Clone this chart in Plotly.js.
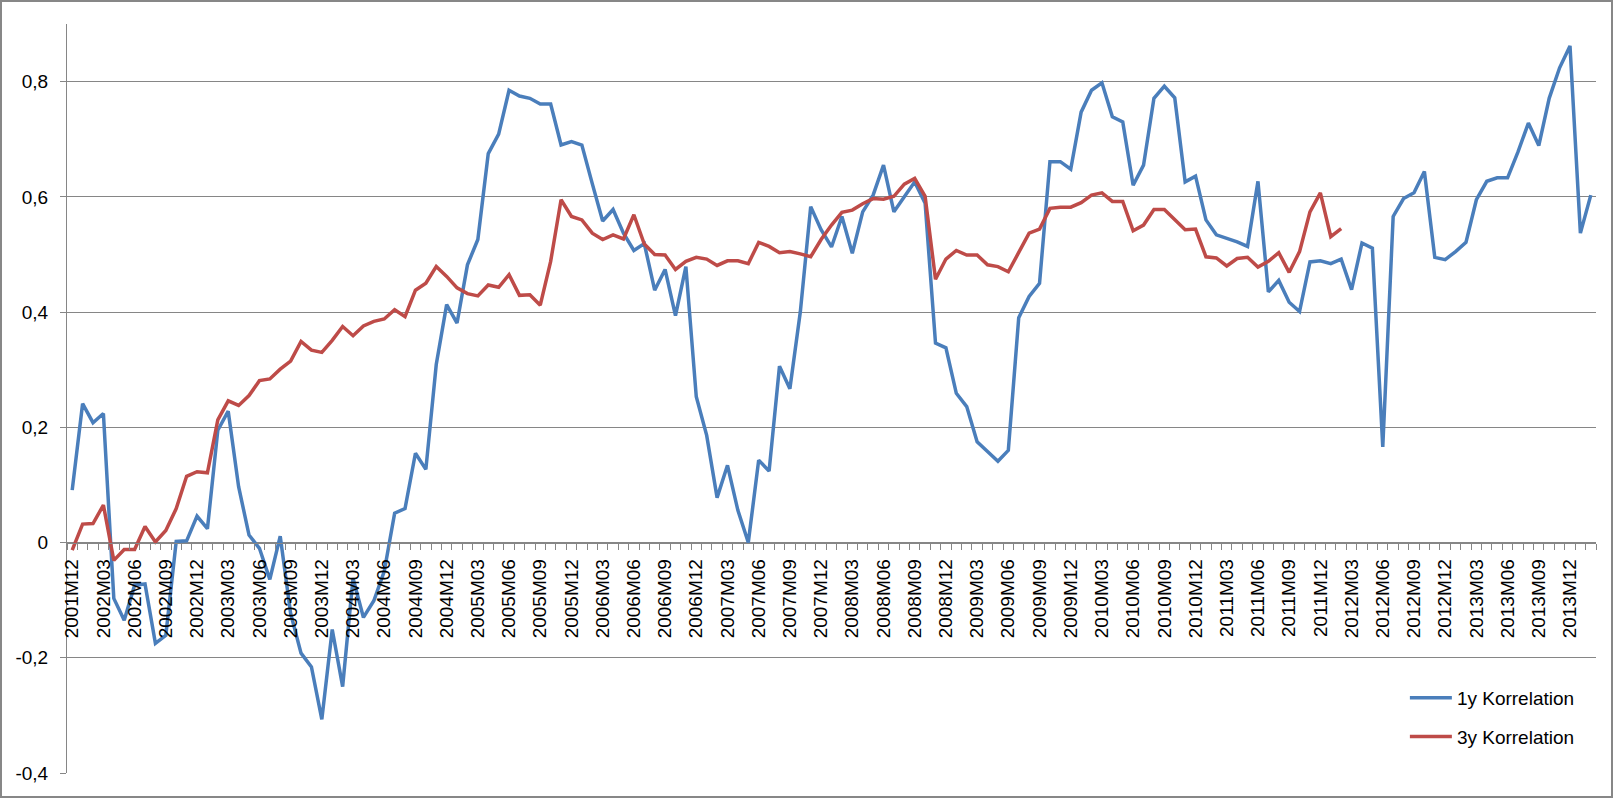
<!DOCTYPE html>
<html>
<head>
<meta charset="utf-8">
<script src="https://cdn.plot.ly/plotly-3.0.1.min.js"></script>
<style>
html, body { margin: 0; padding: 0; background: #ffffff; overflow: hidden; }
#chart { width: 1613px; height: 798px; box-sizing: border-box; border: 2px solid #878787; background: #ffffff; }
</style>
</head>
<body>
<div id="chart"></div>
<script>
// Categories (monthly)
const months = [
  "2001M12",
  "2002M01","2002M02","2002M03","2002M04","2002M05","2002M06","2002M07","2002M08","2002M09","2002M10","2002M11","2002M12",
  "2003M01","2003M02","2003M03","2003M04","2003M05","2003M06","2003M07","2003M08","2003M09","2003M10","2003M11","2003M12",
  "2004M01","2004M02","2004M03","2004M04","2004M05","2004M06","2004M07","2004M08","2004M09","2004M10","2004M11","2004M12",
  "2005M01","2005M02","2005M03","2005M04","2005M05","2005M06","2005M07","2005M08","2005M09","2005M10","2005M11","2005M12",
  "2006M01","2006M02","2006M03","2006M04","2006M05","2006M06","2006M07","2006M08","2006M09","2006M10","2006M11","2006M12",
  "2007M01","2007M02","2007M03","2007M04","2007M05","2007M06","2007M07","2007M08","2007M09","2007M10","2007M11","2007M12",
  "2008M01","2008M02","2008M03","2008M04","2008M05","2008M06","2008M07","2008M08","2008M09","2008M10","2008M11","2008M12",
  "2009M01","2009M02","2009M03","2009M04","2009M05","2009M06","2009M07","2009M08","2009M09","2009M10","2009M11","2009M12",
  "2010M01","2010M02","2010M03","2010M04","2010M05","2010M06","2010M07","2010M08","2010M09","2010M10","2010M11","2010M12",
  "2011M01","2011M02","2011M03","2011M04","2011M05","2011M06","2011M07","2011M08","2011M09","2011M10","2011M11","2011M12",
  "2012M01","2012M02","2012M03","2012M04","2012M05","2012M06","2012M07","2012M08","2012M09","2012M10","2012M11","2012M12",
  "2013M01","2013M02","2013M03","2013M04","2013M05","2013M06","2013M07","2013M08","2013M09","2013M10","2013M11","2013M12",
  "2014M01","2014M02"
];

// Tick labels shown on the x axis (every third month)
const tickLabels = [
  "2001M12","2002M03","2002M06","2002M09","2002M12","2003M03","2003M06","2003M09","2003M12",
  "2004M03","2004M06","2004M09","2004M12","2005M03","2005M06","2005M09","2005M12",
  "2006M03","2006M06","2006M09","2006M12","2007M03","2007M06","2007M09","2007M12",
  "2008M03","2008M06","2008M09","2008M12","2009M03","2009M06","2009M09","2009M12",
  "2010M03","2010M06","2010M09","2010M12","2011M03","2011M06","2011M09","2011M12",
  "2012M03","2012M06","2012M09","2012M12","2013M03","2013M06","2013M09","2013M12"
];

// 1y Korrelation
const corr1y = [
  0.091, 0.241, 0.208, 0.224, -0.097, -0.135, -0.074, -0.072, -0.175, -0.161,
  0.002, 0.003, 0.046, 0.024, 0.195, 0.228, 0.097, 0.013, -0.010, -0.064,
  0.011, -0.123, -0.192, -0.216, -0.307, -0.151, -0.250, -0.062, -0.130, -0.101,
  -0.050, 0.051, 0.059, 0.155, 0.127, 0.309, 0.413, 0.381, 0.482, 0.526,
  0.675, 0.709, 0.785, 0.775, 0.771, 0.761, 0.761, 0.690, 0.696, 0.690,
  0.623, 0.558, 0.578, 0.537, 0.507, 0.519, 0.438, 0.474, 0.394, 0.479,
  0.253, 0.186, 0.078, 0.134, 0.056, 0.000, 0.143, 0.124, 0.306, 0.267,
  0.400, 0.583, 0.543, 0.513, 0.566, 0.502, 0.574, 0.603, 0.655, 0.574,
  0.600, 0.626, 0.589, 0.346, 0.338, 0.259, 0.236, 0.175, 0.158, 0.141,
  0.160, 0.390, 0.427, 0.450, 0.661, 0.661, 0.648, 0.747, 0.785, 0.798,
  0.739, 0.730, 0.620, 0.655, 0.771, 0.792, 0.772, 0.626, 0.636, 0.560,
  0.534, 0.528, 0.522, 0.514, 0.627, 0.435, 0.455, 0.417, 0.401, 0.487,
  0.489, 0.484, 0.492, 0.439, 0.520, 0.511, 0.166, 0.566, 0.597, 0.607,
  0.644, 0.495, 0.491, 0.505, 0.521, 0.595, 0.627, 0.633, 0.633, 0.678,
  0.728, 0.689, 0.771, 0.824, 0.862, 0.537, 0.603
];

// 3y Korrelation
const corr3y = [
  -0.013, 0.032, 0.033, 0.065, -0.031, -0.012, -0.012, 0.028, 0.001, 0.021,
  0.059, 0.115, 0.123, 0.121, 0.213, 0.246, 0.238, 0.255, 0.281, 0.284,
  0.301, 0.315, 0.349, 0.334, 0.330, 0.351, 0.375, 0.359, 0.376, 0.384,
  0.388, 0.404, 0.392, 0.438, 0.450, 0.479, 0.462, 0.442, 0.432, 0.428,
  0.447, 0.443, 0.465, 0.429, 0.430, 0.412, 0.488, 0.595, 0.566, 0.560,
  0.537, 0.526, 0.534, 0.527, 0.569, 0.518, 0.500, 0.499, 0.474, 0.488,
  0.495, 0.492, 0.481, 0.489, 0.489, 0.484, 0.521, 0.514, 0.503, 0.505,
  0.501, 0.496, 0.526, 0.551, 0.573, 0.577, 0.588, 0.597, 0.596, 0.601,
  0.622, 0.632, 0.601, 0.457, 0.492, 0.507, 0.499, 0.499, 0.482, 0.479,
  0.470, 0.505, 0.537, 0.544, 0.580, 0.582, 0.582, 0.590, 0.603, 0.607,
  0.592, 0.592, 0.541, 0.551, 0.578, 0.578, 0.560, 0.543, 0.544, 0.496,
  0.494, 0.480, 0.493, 0.495, 0.478, 0.488, 0.503, 0.469, 0.505, 0.574,
  0.607, 0.531, 0.545
];

// Y axis ticks
const yTickVals = [-0.4, -0.2, 0, 0.2, 0.4, 0.6, 0.8];
const yTickText = ["-0,4", "-0,2", "0", "0,2", "0,4", "0,6", "0,8"];

const seriesNames = ["1y Korrelation", "3y Korrelation"];

const xIdx = months.map((m, i) => i);
const tickVals = tickLabels.map(l => months.indexOf(l));

const gridCol = "#868686";
const fontFam = "'Liberation Sans', Arial, sans-serif";
const yMin = -0.4, yMax = 0.9;

const traces = [
  {
    x: xIdx.slice(0, corr1y.length), y: corr1y, name: seriesNames[0],
    type: "scatter", mode: "lines",
    line: { color: "#4a7ebb", width: 3.5 },
    legendgroup: "a", hoverinfo: "skip"
  },
  {
    x: xIdx.slice(0, corr3y.length), y: corr3y, name: seriesNames[1],
    type: "scatter", mode: "lines",
    line: { color: "#be4b48", width: 3.5 },
    legendgroup: "b", hoverinfo: "skip"
  }
];

const layout = {
  width: 1609, height: 794,
  margin: { l: 65, r: 15, t: 22, b: 23 },
  paper_bgcolor: "#ffffff", plot_bgcolor: "#ffffff",
  font: { family: fontFam, size: 19, color: "#000000" },
  showlegend: true,
  legend: {
    x: 0.875, y: 0.1255, xanchor: "left", yanchor: "top",
    font: { family: fontFam, size: 19, color: "#000000" },
    traceorder: "grouped", tracegroupgap: 11,
    itemwidth: 42,
    bgcolor: "rgba(0,0,0,0)", borderwidth: 0
  },
  xaxis: {
    type: "linear",
    range: [-0.5, months.length - 0.5],
    anchor: "free",
    position: (0 - yMin) / (yMax - yMin),
    tickmode: "array", tickvals: tickVals, ticktext: tickLabels,
    tickangle: -90, ticks: "", showgrid: false, zeroline: false,
    showline: true, linecolor: gridCol, linewidth: 1,
    tickfont: { family: fontFam, size: 19, color: "#000000" },
    ticklabelstandoff: 8,
    minor: { ticks: "outside", tickmode: "linear", tick0: -0.5, dtick: 1, ticklen: 6, tickcolor: gridCol, tickwidth: 1, showgrid: false },
    fixedrange: true
  },
  yaxis: {
    range: [yMin, yMax],
    tickmode: "array", tickvals: yTickVals, ticktext: yTickText,
    ticks: "outside", ticklen: 6, tickcolor: gridCol,
    showgrid: true, gridcolor: gridCol, gridwidth: 1,
    zeroline: false, showline: true, linecolor: gridCol, linewidth: 1,
    tickfont: { family: fontFam, size: 19, color: "#000000" },
    ticklabelstandoff: 8,
    fixedrange: true
  }
};

Plotly.newPlot("chart", traces, layout, { displayModeBar: false, staticPlot: true });
</script>
</body>
</html>
